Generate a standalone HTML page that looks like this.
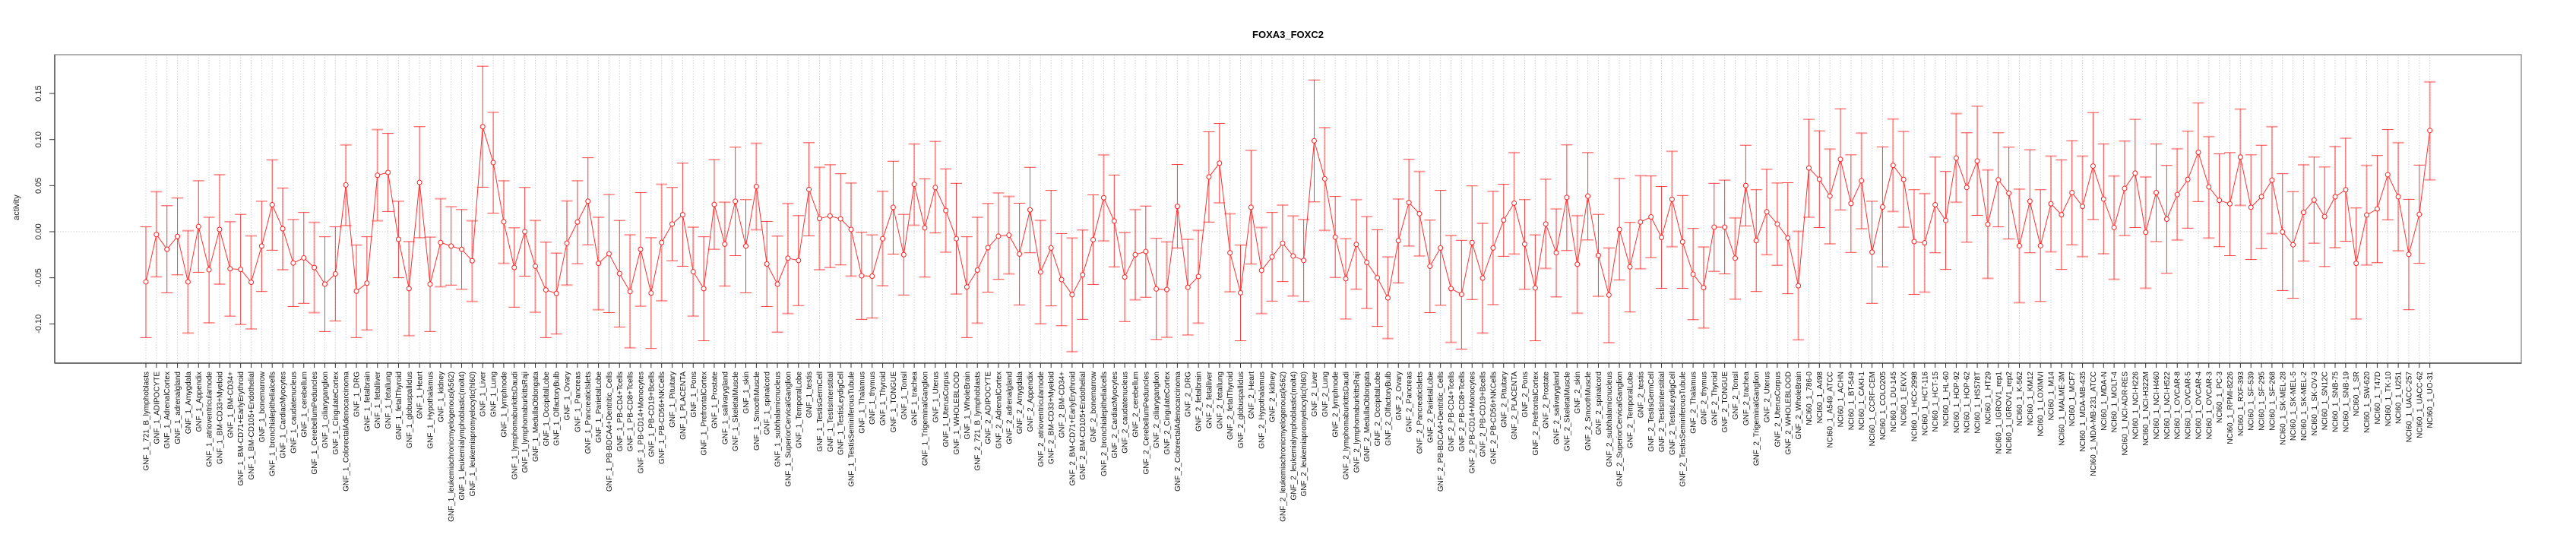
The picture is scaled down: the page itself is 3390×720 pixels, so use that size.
<!DOCTYPE html>
<html><head><meta charset="utf-8"><style>
html,body{margin:0;padding:0;background:#fff;}
svg{display:block;font-family:"Liberation Sans",sans-serif;}
</style></head><body>
<svg id="s" width="3390" height="720" xmlns="http://www.w3.org/2000/svg"></svg>
<script>
var D=[[738,566,912],[590,456,722],[636,500,772],[596,476,716],[738,578,898],[565,422,708],[700,536,866],[574,403,745],[697,550,845],[699,527,871],[739,594,885],[626,486,768],[497,357,639],[572,445,700],[679,543,815],[663,521,805],[693,552,834],[745,597,893],[713,566,860],[435,310,562],[767,623,912],[742,597,888],[405,262,547],[396,274,518],[605,486,725],[759,612,906],[427,253,600],
[745,598,893],[615,478,753],[626,503,748],[636,512,761],[672,547,799],[253,64,442],[365,208,523],[550,422,680],[693,569,817],[581,443,720],[689,546,833],[763,614,912],[774,648,901],[617,485,748],[551,422,681],[486,350,622],[680,536,825],[650,465,834],[712,546,879],[768,591,944],[636,459,814],[773,600,946],[615,433,797],[557,443,672],[528,367,689],[706,567,845],[759,597,922],[496,356,636],
[620,489,751],[486,317,656],[626,481,772],[440,305,575],[682,549,815],[745,595,895],[664,493,837],[671,531,812],[449,303,594],[540,380,700],[532,372,693],[541,400,685],[574,429,720],[719,583,855],[720,591,851],[603,455,750],[505,361,651],[653,527,779],[433,307,561],[569,416,723],[443,299,585],[515,385,645],[603,430,776],[754,597,912],[701,536,867],[631,493,770],[595,460,730],
[592,471,713],[651,492,810],[513,380,647],[707,546,869],[632,452,813],[731,587,875],[778,601,956],[716,576,855],[606,466,746],[475,341,610],[548,404,691],[723,584,862],[653,512,794],[643,501,786],[760,602,918],[762,613,911],[502,371,632],[755,605,904],[721,577,867],[410,269,551],[367,243,491],[647,525,769],[772,623,922],[505,327,682],[702,568,837],[660,521,798],[617,498,737],
[657,532,782],[671,543,799],[297,107,488],[416,256,577],[598,471,724],[728,603,854],[621,481,761],[677,534,821],[725,575,877],[788,660,915],[609,479,741],[490,355,626],[525,393,657],[689,545,834],[632,452,811],[759,593,927],[777,608,948],[615,438,793],[726,555,898],[632,455,809],[545,433,658],[492,334,651],[620,481,761],[757,591,922],[557,417,696],[647,510,785],[474,310,640],[683,531,836],
[470,334,607],[655,527,783],[779,632,928],[574,415,732],[691,552,832],[551,406,697],[535,407,662],[599,440,758],[480,330,628],[613,468,758],[714,571,856],[756,629,882],[567,430,705],[567,420,713],[664,538,792],[437,311,563],[609,450,768],[519,386,653],[557,429,686],[601,428,775],[750,580,919],
[382,230,536],[417,266,568],[470,323,619],[355,197,513],[493,341,646],[422,273,572],
[645,486,805],[504,316,691],[374,229,518],[418,268,567],[612,450,777],[616,462,770],[497,348,647],[546,393,699],[351,212,489],[443,272,614],[360,189,530],[558,388,727],[419,272,566],[461,317,604],[625,448,803],[486,325,647],[625,450,799],[494,345,644],[528,357,699],[459,297,622],[502,345,659],[376,209,543],[479,307,650],[568,407,730],[446,298,593],[398,230,568],[583,410,758],[459,307,612],
[542,374,711],[465,322,607],[418,267,570],[333,179,487],[441,284,601],[483,338,628],[494,334,656],[348,198,499],[505,341,668],[472,311,634],[420,253,587],[582,400,765],[622,456,789],[521,372,673],[482,348,617],[534,379,690],[472,315,631],[450,289,611],[680,507,854],[529,374,685],[510,343,678],[403,262,544],[472,303,641],[652,480,825],[527,373,680],[265,113,419]];
var T1="721_B_lymphoblasts,ADIPOCYTE,AdrenalCortex,adrenalgland,Amygdala,Appendix,atrioventricularnode,BM-CD33+Myeloid,BM-CD34+,BM-CD71+EarlyErythroid,BM-CD105+Endothelial,bonemarrow,bronchialepithelialcells,CardiacMyocytes,caudatenucleus,cerebellum,CerebellumPeduncles,ciliaryganglion,CingulateCortex,ColorectalAdenocarcinoma,DRG,fetalbrain,fetalliver,fetallung,fetalThyroid,globuspallidus,Heart,Hypothalamus,kidney,leukemiachronicmyelogenous(k562),leukemialymphoblastic(molt4),leukemiapromyelocytic(hl60),Liver,Lung,lymphnode,lymphomaburkittsDaudi,lymphomaburkittsRaji,MedullaOblongata,OccipitalLobe,OlfactoryBulb,Ovary,Pancreas,PancreaticIslets,ParietalLobe,PB-BDCA4+Dentritic_Cells,PB-CD4+Tcells,PB-CD8+Tcells,PB-CD14+Monocytes,PB-CD19+Bcells,PB-CD56+NKCells,Pituitary,PLACENTA,Pons,PrefrontalCortex,Prostate,salivarygland,SkeletalMuscle,skin,SmoothMuscle,spinalcord,subthalamicnucleus,SuperiorCervicalGanglion,TemporalLobe,testis,TestisGermCell,TestisInterstitial,TestisLeydigCell,TestisSeminiferousTubule,Thalamus,thymus,Thyroid,TONGUE,Tonsil,trachea,TrigeminalGanglion,Uterus,UterusCorpus,WHOLEBLOOD,WholeBrain".split(",");
var N="786-0,A498,A549_ATCC,ACHN,BT-549,CAKI-1,CCRF-CEM,COLO205,DU-145,EKVX,HCC-2998,HCT-116,HCT-15,HL-60,HOP-92,HOP-62,HS578T,HT29,IGROV1_rep1,IGROV1_rep2,K-562,KM12,LOXIMVI,M14,MALME-3M,MCF7,MDA-MB-435,MDA-MB-231_ATCC,MDA-N,MOLT-4,NCI-ADR-RES,NCI-H226,NCI-H322M,NCI-H460,NCI-H522,OVCAR-8,OVCAR-5,OVCAR-4,OVCAR-3,PC-3,RPMI-8226,RXF-393,SF-539,SF-295,SF-268,SK-MEL-28,SK-MEL-5,SK-MEL-2,SK-OV-3,SN12C,SNB-75,SNB-19,SR,SW-620,T47D,TK-10,U251,UACC-257,UACC-62,UO-31".split(",");
var L=[];T1.forEach(function(t){L.push("GNF_1_"+t)});T1.forEach(function(t){L.push("GNF_2_"+t)});N.forEach(function(t){L.push("NCI60_1_"+t)});
function Y(z){return 72+(z-28)*0.4212;}
function X(i){return 192+i*13.851;}
var h=[];
h.push('<text x="1695" y="50" text-anchor="middle" font-weight="bold" font-size="13">FOXA3_FOXC2</text>');
for(var i=0;i<D.length;i++){var x=X(i);h.push('<line x1="'+x+'" y1="72" x2="'+x+'" y2="478" stroke="#d0d0d0" stroke-dasharray="1.5,2"/>');}
h.push('<line x1="72" y1="305" x2="3318" y2="305" stroke="#d0d0d0" stroke-dasharray="1.5,2"/>');
var pts=[];
for(var i=0;i<D.length;i++){var x=X(i),m=Y(D[i][0]),t=Y(D[i][1]),b=Y(D[i][2]);pts.push(x.toFixed(1)+','+m.toFixed(1));
var op=(i%3==1)?0.45:0.85,w=(i%3==1)?2:1;
h.push('<g stroke="#ff2020" stroke-opacity="'+op+'" stroke-width="'+w+'"><line x1="'+x+'" y1="'+t+'" x2="'+x+'" y2="'+b+'"/><line x1="'+(x-7.5)+'" y1="'+t+'" x2="'+(x+7.5)+'" y2="'+t+'"/><line x1="'+(x-7.5)+'" y1="'+b+'" x2="'+(x+7.5)+'" y2="'+b+'"/></g>');}
h.push('<polyline points="'+pts.join(' ')+'" fill="none" stroke="#ff3030" stroke-width="1"/>');
for(var i=0;i<D.length;i++){h.push('<circle cx="'+X(i)+'" cy="'+Y(D[i][0])+'" r="3" fill="#fff" stroke="#ff2020" stroke-width="1"/>');}
h.push('<rect x="72" y="72" width="3246" height="406" fill="none" stroke="#999" stroke-width="1.5"/>');
h.push('<line x1="72" y1="72" x2="72" y2="478" stroke="#555" stroke-width="1.5"/><line x1="72" y1="478" x2="3318" y2="478" stroke="#555" stroke-width="1.5"/>');
[-0.1,-0.05,0,0.05,0.1,0.15].forEach(function(v){var y=305-v*1213;h.push('<line x1="65" y1="'+y+'" x2="72" y2="'+y+'" stroke="#333"/>');
h.push('<text transform="translate(54,'+y+') rotate(-90)" text-anchor="middle" font-size="11" fill="#222">'+v.toFixed(2)+'</text>');});
h.push('<text transform="translate(25,273) rotate(-90)" text-anchor="middle" font-size="11" fill="#222">activity</text>');
for(var i=0;i<D.length;i++){var x=X(i);h.push('<line x1="'+x+'" y1="478" x2="'+x+'" y2="484" stroke="#333"/>');
h.push('<text transform="translate('+(x+3.5)+',489) rotate(-90)" text-anchor="end" font-size="10" fill="#111">'+L[i].replace(/&/g,'&amp;')+'</text>');}
document.getElementById('s').innerHTML=h.join('');
</script>
</body></html>
